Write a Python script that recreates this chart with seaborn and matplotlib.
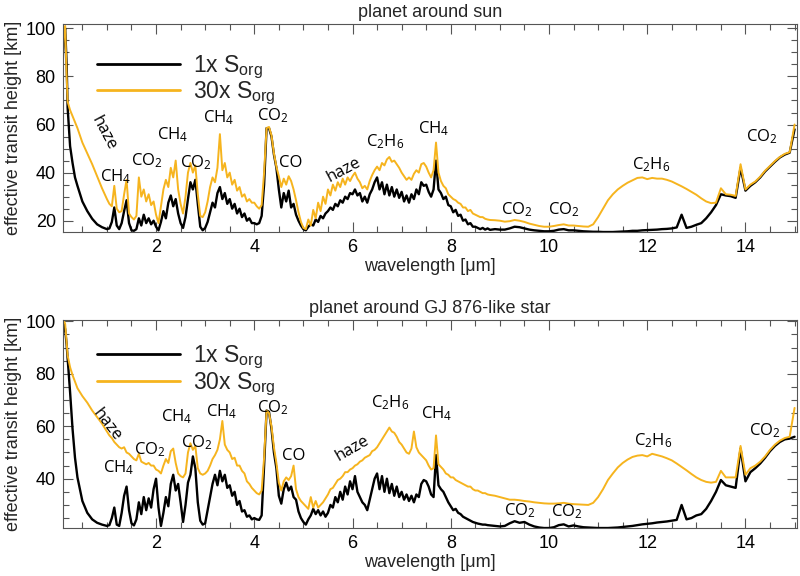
import numpy as np
import pandas as pd
import matplotlib
matplotlib.use("Agg")
import matplotlib.pyplot as plt
import seaborn as sns
from matplotlib.ticker import MultipleLocator

# ---------------- data ----------------
wl_uv = [0.10, 0.12, 0.15, 0.18, 0.20, 0.25, 0.30, 0.35, 0.40, 0.50, 0.60, 0.70, 0.80, 0.90]
wl_nir = [round(1.0 + 0.05 * i, 2) for i in range(157)]      # 1.00 ... 8.80
wl_mir = [round(8.9 + 0.1 * i, 1) for i in range(62)]        # 8.9 ... 15.0
wavelength = wl_uv + wl_nir + wl_mir

# planet around sun, 1x S_org
sun_1x = [86, 97, 100, 85, 67, 51, 44, 38, 34.5, 28, 24, 20.8, 18.5, 17.3,
          16.5, 16.8, 19.5, 25.5, 18.0, 16.5, 19.0, 24.0, 28.5, 19.0,
          16.0, 15.8, 16.5, 21.0, 18.0, 22.5, 19.0, 21.0, 18.5, 20.0,
          17.5, 16.0, 19.5, 24.0, 21.0, 27.5, 30.5, 26.0, 29.0, 23.0,
          19.0, 17.0, 21.5, 29.0, 36.0, 33.0, 37.0, 27.0, 17.5, 16.0,
          17.0, 19.5, 23.5, 27.5, 25.5, 31.5, 34.0, 29.0, 31.5, 27.0,
          29.0, 25.0, 27.0, 23.0, 25.0, 21.5, 23.0, 20.0, 21.0, 19.0,
          19.0, 18.5, 19.0, 22.0, 35.0, 58.5, 58.5, 55.0, 47.5, 42.0,
          33.0, 25.5, 31.5, 28.0, 32.5, 25.5, 27.0, 22.5, 20.0, 18.0,
          16.5, 16.0, 17.5, 18.5, 18.0, 20.5, 19.5, 22.0, 21.0, 23.0,
          24.0, 25.5, 24.5, 27.0, 26.0, 28.5, 27.5, 30.0, 29.0, 31.5,
          31.0, 33.0, 30.5, 31.5, 28.0, 30.0, 27.5, 31.0, 33.0, 36.0,
          38.0, 33.0, 36.0, 31.0, 35.0, 30.5, 34.0, 30.0, 33.0, 29.5,
          32.0, 28.0, 30.5, 27.5, 31.0, 29.0, 33.0, 31.0, 36.0, 34.5,
          35.0, 32.0, 30.0, 33.0, 45.0, 33.0, 31.5, 29.0, 30.0, 26.5,
          26.0, 23.5, 24.5, 22.0, 22.5, 20.0, 20.5, 18.5, 19.0, 17.5,
          17.5, 17.0, 16.5, 17.0, 16.3, 16.8, 16.2,
          16.5, 16.3, 16.3, 16.8, 17.5, 17.3, 16.8, 16.3, 16.0, 15.8,
          15.6, 15.6, 15.8, 16.3, 16.5, 16.0, 16.0, 15.8, 15.6, 15.5,
          15.4, 15.4, 15.3, 15.3, 15.3, 15.4, 15.5, 15.6, 15.8, 15.8,
          16.0, 16.1, 16.2, 16.3, 16.5, 16.6, 16.8, 17.2, 22.5, 17.0,
          17.5, 18.3, 19.0, 21.0, 23.5, 26.5, 31.0, 30.5, 30.2, 29.5,
          42.0, 32.5, 34.5, 36.0, 38.0, 40.5, 42.5, 44.5, 46.3, 47.5,
          48.3, 58.0]

# planet around sun, 30x S_org
sun_30x = [86, 98, 101, 80, 69.5, 66, 63.5, 61, 58.5, 52.5, 48, 43.5, 38.5, 33.5,
           29.0, 27.0, 26.0, 34.5, 25.0, 23.5, 24.0, 31.0, 37.0, 23.0,
           21.5, 20.5, 22.0, 38.0, 30.0, 33.0, 28.0, 31.0, 26.5, 28.0,
           22.5, 19.0, 26.0, 33.0, 37.0, 34.0, 42.0, 38.0, 45.0, 33.0,
           27.0, 23.0, 30.0, 40.0, 44.0, 40.0, 43.0, 31.0, 22.0, 21.5,
           23.5, 28.0, 34.0, 38.0, 36.0, 42.0, 56.0, 41.0, 44.0, 38.0,
           40.0, 35.0, 37.0, 32.5, 34.0, 30.0, 31.0, 28.0, 29.0, 27.5,
           27.5, 26.0, 25.0, 26.5, 40.0, 58.5, 59.0, 55.5, 48.0, 42.5,
           38.5, 34.0, 37.5, 35.0, 38.5, 36.5, 33.0, 28.5, 23.5, 19.5,
           17.0, 16.5, 20.5, 18.0, 24.5, 21.0, 27.5, 24.0, 30.0, 27.0,
           33.0, 30.5, 35.0, 32.5, 36.0, 34.0, 37.5, 35.0, 38.0, 36.5,
           38.5, 40.0, 37.5, 36.0, 33.5, 34.5, 33.0, 36.5, 39.0, 41.0,
           42.5, 41.0, 44.0, 43.0, 45.5, 46.5, 44.5, 45.0, 43.5, 42.0,
           40.0, 38.5, 37.0, 38.0, 37.0, 39.5, 41.0, 40.0, 43.5, 44.0,
           42.5, 40.0, 38.0, 41.0, 52.5, 40.0, 36.5, 34.5, 33.5, 31.0,
           30.0, 29.0, 28.5, 27.5, 27.0, 25.5, 25.5, 24.0, 24.5, 23.0,
           22.5, 22.0, 21.5, 21.5, 20.8, 20.5, 20.3,
           20.2, 20.0, 19.6, 19.8, 20.3, 20.0, 19.5, 18.8, 18.3, 17.8,
           17.5, 17.5, 17.8, 18.2, 18.5, 18.0, 18.0, 17.8, 17.6, 17.5,
           18.5, 21.5, 25.0, 28.5, 31.0, 33.0, 34.5, 35.8, 36.8, 37.8,
           38.0, 37.3, 37.8, 37.5, 37.5, 37.0, 36.3, 35.3, 34.3, 33.2,
           32.0, 30.8, 29.3, 28.0, 27.3, 27.5, 33.5, 31.0, 30.8, 30.3,
           43.5, 33.0, 35.0, 36.3, 38.3, 40.8, 42.8, 44.8, 46.5, 47.8,
           48.5, 60.0]

# planet around GJ 876-like star, 1x S_org
gj_1x = [95, 99.5, 97, 91, 86, 73, 59, 48, 40.5, 31.5, 27, 24.5, 23.2, 22.5,
         22.0, 22.3, 25.0, 29.0, 22.5, 22.0, 27.0, 33.5, 37.0, 28.0,
         23.0, 22.2, 24.5, 31.0, 26.5, 33.0, 28.0, 32.5, 29.0, 36.0,
         40.0, 29.0, 22.0, 27.0, 33.0, 29.5, 38.0, 41.5, 35.5, 38.0,
         31.0, 23.5, 30.0, 38.5, 41.5, 48.5, 44.0, 31.0, 24.0, 22.5,
         23.0, 28.0, 33.0, 38.0, 41.5, 37.5, 43.0, 39.0, 41.5, 36.5,
         37.5, 33.5, 35.0, 30.0, 31.5, 27.5, 28.0, 25.5, 26.0, 24.5,
         25.0, 24.5, 24.3, 26.0, 45.0, 66.0, 65.5, 59.0, 50.0, 44.0,
         33.5, 30.5, 36.0, 38.5, 35.5, 37.0, 33.0, 32.0, 27.5, 25.0,
         23.5, 22.5, 24.5, 26.0, 28.5, 26.5, 28.0, 26.0, 27.5, 25.5,
         27.0, 30.0, 29.0, 33.0, 31.0, 35.0, 32.0, 37.0, 34.0, 39.0,
         36.0, 41.0, 35.0, 33.0, 31.0, 30.0, 28.0, 32.0, 36.0, 40.0,
         42.0, 36.0, 41.0, 35.0, 40.0, 34.5, 38.0, 33.5, 37.0, 33.0,
         35.0, 32.0, 34.0, 31.5, 33.5, 31.0, 34.0, 33.0, 38.0, 39.5,
         39.0, 37.0, 34.0, 33.0, 49.0, 37.5, 36.0, 35.0, 33.0, 31.0,
         29.5, 28.0, 28.5, 27.0, 26.5, 25.5, 25.0, 24.5, 24.0, 23.5,
         23.2, 22.9, 22.7, 22.5, 22.5, 22.3, 22.2,
         22.0, 21.8, 22.0, 23.0, 23.8, 23.2, 23.5, 22.5, 21.8, 21.4,
         21.2, 21.2, 21.5, 22.3, 22.6, 21.8, 22.2, 21.8, 21.5, 21.4,
         21.3, 21.2, 21.2, 21.2, 21.3, 21.4, 21.6, 21.8, 22.0, 22.3,
         22.6, 22.8, 23.0, 23.3, 23.5, 23.7, 24.0, 24.3, 30.0, 24.5,
         25.0, 26.0, 26.5, 28.5, 31.5, 35.0, 39.5, 37.5, 37.0, 36.5,
         51.5, 39.0, 42.5, 44.0, 45.8, 48.0, 50.5, 52.5, 54.0, 55.0,
         55.3, 56.0]

# planet around GJ 876-like star, 30x S_org
gj_30x = [99.5, 100.5, 99, 92, 87, 82.5, 79.5, 77, 74.5, 71.5, 69, 66, 63.5, 61,
          58.0, 56.5, 55.5, 54.0, 53.0, 52.0, 51.5, 52.0, 50.0, 49.5,
          48.5, 47.5, 47.0, 49.5, 46.5, 46.0, 45.5, 46.0, 45.0, 45.0,
          43.5, 43.0, 42.0, 45.0, 47.5, 46.0, 50.5, 51.5, 46.0, 42.0,
          41.0, 40.5, 42.0, 50.0, 53.5, 51.0, 52.5, 44.0, 42.0, 41.5,
          42.0, 43.0, 45.0, 47.5, 49.0, 51.0, 55.0, 62.0, 53.0, 51.0,
          50.0, 47.5, 48.0, 45.0, 45.0, 43.0, 42.0, 39.0, 38.0, 36.5,
          35.5, 34.5, 34.0, 35.5, 48.0, 66.0, 65.0, 60.0, 52.0, 46.0,
          38.5, 35.5, 39.0, 40.5, 39.5, 41.0, 45.0, 36.0, 33.0, 31.5,
          30.5, 29.5, 28.5, 33.0, 29.0, 31.5, 29.0, 30.0, 31.0, 32.5,
          34.0, 36.0, 36.5, 38.0, 39.5, 40.0, 41.0, 42.5, 42.5, 43.5,
          44.0, 45.0, 45.5, 46.5, 47.0, 48.0, 48.5, 49.0, 50.5, 51.0,
          52.0, 53.5, 55.0, 56.5, 58.0, 59.5, 58.0, 57.5, 56.0, 54.0,
          53.0, 51.5, 50.0, 49.5, 51.5, 58.0, 52.0, 50.0, 49.0, 48.0,
          47.0, 45.0, 43.5, 44.0, 56.5, 45.5, 44.5, 43.5, 42.0, 41.5,
          40.5, 40.5, 39.5, 39.0, 38.5, 38.0, 37.5, 37.0, 37.0, 36.0,
          35.5, 35.5, 35.0, 34.5, 34.5, 34.0, 33.8,
          33.5, 33.0, 32.5, 32.0, 32.0, 31.8, 31.5, 31.3, 31.0, 30.8,
          30.6, 30.5, 30.5, 30.6, 30.8, 30.5, 30.3, 30.2, 30.1, 30.0,
          30.8, 33.0, 36.0, 39.5, 42.0, 44.3, 46.0, 47.3, 48.3, 48.8,
          49.0, 48.5, 49.5, 49.0, 48.5, 47.8, 47.0, 45.8, 44.5, 43.2,
          41.8, 40.5, 39.5, 38.8, 38.5, 38.8, 43.0, 40.5, 40.5, 40.5,
          52.5, 41.5, 44.0, 45.0, 46.5, 48.5, 51.0, 53.0, 54.5, 55.5,
          56.0, 67.0]

panel_titles = ["planet around sun", "planet around GJ 876-like star"]
series_labels = ["1x S$_{org}$", "30x S$_{org}$"]

# annotations: (text, x, y, rotation)
sun_labels = [("haze", 0.93, 56.5, -62), ("CH$_4$", 1.17, 38.2, 0), ("CO$_2$", 1.82, 44.8, 0),
              ("CH$_4$", 2.33, 55.6, 0), ("CO$_2$", 2.80, 44.3, 0), ("CH$_4$", 3.27, 63.0, 0),
              ("CO$_2$", 4.38, 63.8, 0), ("CO", 4.74, 43.9, 0), ("haze", 5.82, 41.1, 28),
              ("C$_2$H$_6$", 6.67, 52.9, 0), ("CH$_4$", 7.65, 58.4, 0), ("CO$_2$", 9.34, 24.7, 0),
              ("CO$_2$", 10.30, 24.5, 0), ("C$_2$H$_6$", 12.07, 43.2, 0), ("CO$_2$", 14.34, 54.9, 0)]
gj_labels = [("haze", 1.00, 60.6, -52), ("CH$_4$", 1.24, 44.1, 0), ("CO$_2$", 1.88, 51.1, 0),
             ("CH$_4$", 2.43, 63.8, 0), ("CO$_2$", 2.83, 53.6, 0), ("CH$_4$", 3.34, 65.7, 0),
             ("CO$_2$", 4.38, 67.0, 0), ("CO", 4.80, 48.6, 0), ("haze", 5.99, 51.7, 30),
             ("C$_2$H$_6$", 6.77, 68.9, 0), ("CH$_4$", 7.72, 64.7, 0), ("CO$_2$", 9.40, 27.9, 0),
             ("CO$_2$", 10.37, 27.4, 0), ("C$_2$H$_6$", 12.11, 54.5, 0), ("CO$_2$", 14.40, 58.3, 0)]

for arr in (sun_1x, sun_30x, gj_1x, gj_30x):
    assert len(arr) == len(wavelength), len(arr)

# ---------------- style ----------------
sns.set_style("ticks")
plt.rcParams["font.family"] = ["Liberation Sans", "DejaVu Sans"]
plt.rcParams["mathtext.default"] = "regular"

ORANGE = "#F6B41E"
AXCOL = "#555555"

fig = plt.figure(figsize=(8.0, 5.76), dpi=100)
ax_top = fig.add_axes([0.0784, 0.5972, 0.9179, 0.3611])
ax_bot = fig.add_axes([0.0784, 0.0833, 0.9179, 0.3611])

panels = [
    (ax_top, sun_1x, sun_30x, panel_titles[0], sun_labels, (15.3, 101.8), 0.86),
    (ax_bot, gj_1x, gj_30x, panel_titles[1], gj_labels, (21.2, 100.5), 0.885),
]

for ax, s1, s30, title, labels, ylim, leg_y in panels:
    df = pd.DataFrame({"wavelength": wavelength, "s1": s1, "s30": s30})
    sns.lineplot(data=df, x="wavelength", y="s1", ax=ax, color="black", lw=1.7,
                 estimator=None, sort=False, label=series_labels[0])
    sns.lineplot(data=df, x="wavelength", y="s30", ax=ax, color=ORANGE, lw=1.4,
                 estimator=None, sort=False, label=series_labels[1])

    ax.set_xlim(0.1, 15.05)
    ax.set_ylim(*ylim)
    ax.xaxis.set_major_locator(MultipleLocator(2))
    ax.xaxis.set_minor_locator(MultipleLocator(0.5))
    ax.yaxis.set_major_locator(MultipleLocator(20))
    ax.yaxis.set_minor_locator(MultipleLocator(5))
    ax.set_xticks([2, 4, 6, 8, 10, 12, 14])
    ax.tick_params(which="both", direction="in", top=True, right=True,
                   color=AXCOL, width=0.8, labelsize=13, pad=5, labelcolor="black")
    ax.tick_params(which="major", length=7)
    ax.tick_params(which="minor", length=4)
    for sp in ax.spines.values():
        sp.set_color(AXCOL)
        sp.set_linewidth(0.8)

    ax.set_title(title, fontsize=13, pad=5)
    ax.set_xlabel("wavelength [\u03bcm]", fontsize=13)
    ax.set_ylabel("effective transit height [km]", fontsize=13)
    ax.xaxis.set_label_coords(0.5, -0.125)
    ax.yaxis.set_label_coords(-0.056, 0.5)

    for txt, x, y, rot in labels:
        ax.text(x, y, txt, ha="center", va="center", fontsize=12, rotation=rot,
                rotation_mode="anchor", family=["Open Sans", "DejaVu Sans"], color="black")

    leg = ax.legend(loc="upper left", bbox_to_anchor=(0.0467, leg_y), frameon=False,
                    fontsize=16.5, handlelength=3.6, handletextpad=0.6, borderpad=0,
                    borderaxespad=0, labelspacing=-0.05)
    for h in leg.get_lines():
        h.set_linewidth(2.0)

fig.savefig("out.png", dpi=100)
